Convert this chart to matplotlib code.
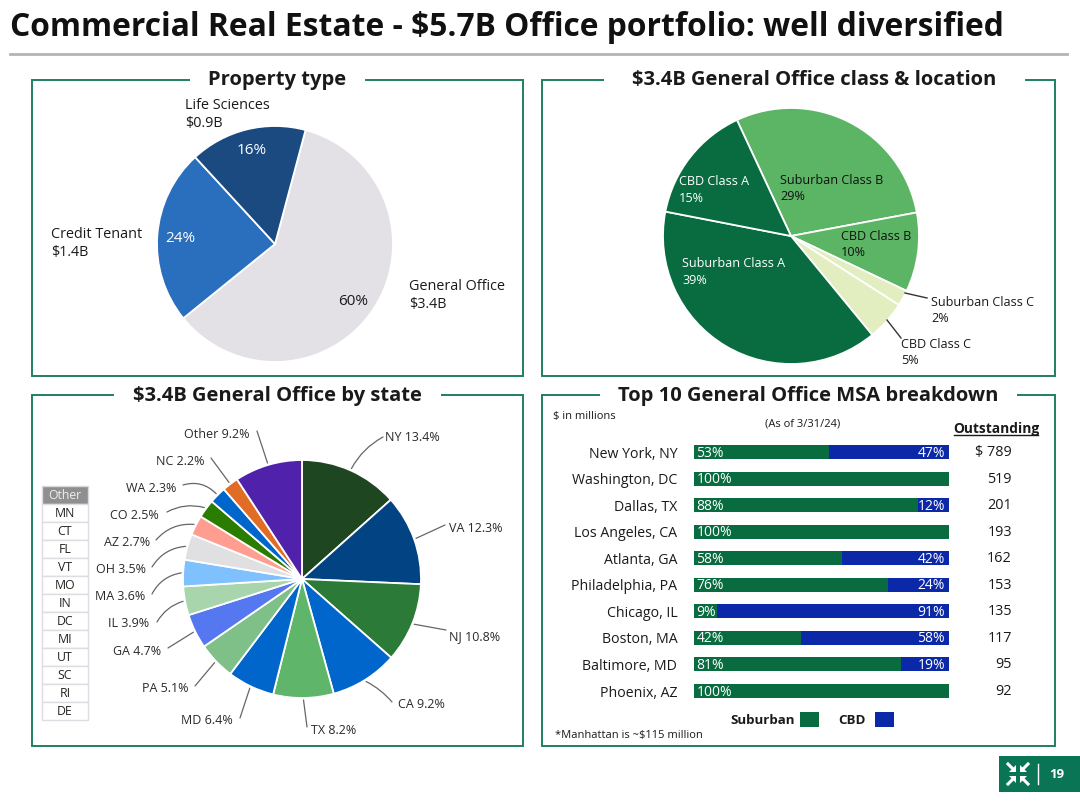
"""Office portfolio slide: three pies and a stacked bar breakdown."""
import numpy as np
import matplotlib
matplotlib.use("Agg")
import matplotlib.pyplot as plt
from matplotlib.patches import Polygon, Rectangle

W, H = 1080, 810
FONT = "Open Sans"
GREEN_LINE = "#1f7f62"
TEXT = "#1a1a1a"

# --- Data ---
type_names = ["General Office", "Credit Tenant", "Life Sciences"]
type_values = [60, 24, 16]
type_colors = ["#e3e1e6", "#2a6fbd", "#1a4a80"]

class_names = ["Suburban Class B", "CBD Class B", "Suburban Class C", "CBD Class C",
               "Suburban Class A", "CBD Class A"]
class_values = [29, 10, 2, 5, 39, 15]
class_colors = ["#5cb465", "#5cb465", "#e2edc0", "#e2edc0", "#086c40", "#086c40"]

states = ["NY", "VA", "NJ", "CA", "TX", "MD", "PA", "GA", "IL", "MA", "OH", "AZ", "CO", "WA", "NC", "Other"]
state_values = [13.4, 12.3, 10.8, 9.2, 8.2, 6.4, 5.1, 4.7, 3.9, 3.6, 3.5, 2.7, 2.5, 2.3, 2.2, 9.2]
state_colors = ["#1e4620", "#024384", "#2c7a38", "#0066cc", "#5fb56a", "#0066cc", "#7fc089", "#5577f0",
                "#a8d5ac", "#7fc0ff", "#e0e0e2", "#ff9e90", "#2a7d00", "#0066cc", "#e06c25", "#5022ab"]
other_states = ["MN", "CT", "FL", "VT", "MO", "IN", "DC", "MI", "UT", "SC", "RI", "DE"]

cities = ["New York, NY", "Washington, DC", "Dallas, TX", "Los Angeles, CA", "Atlanta, GA",
          "Philadelphia, PA", "Chicago, IL", "Boston, MA", "Baltimore, MD", "Phoenix, AZ"]
suburban = [53, 100, 88, 100, 58, 76, 9, 42, 81, 100]
cbd = [47, 0, 12, 0, 42, 24, 91, 58, 19, 0]
outstanding = ["$ 789", "519", "201", "193", "162", "153", "135", "117", "95", "92"]

# label position (px), alignment, leader end at the label (px), arc bend
state_layout = {
    "NY": (385, 436, "left", (383, 437), 0.15), "VA": (449, 527, "left", (445, 525), 0.0),
    "NJ": (449, 635, "left", (446, 630), 0.0), "CA": (398, 703, "left", (392, 702), 0.1),
    "TX": (311, 729, "left", (307, 727), 0.0), "MD": (233, 719, "right", (240, 718), 0.0),
    "PA": (188, 687, "right", (195, 686), 0.0), "GA": (161, 650, "right", (168, 648), 0.0),
    "IL": (149, 622, "right", (157, 622), -0.2), "MA": (145, 595, "right", (152, 594), -0.25),
    "OH": (146, 568, "right", (152, 567), -0.25), "AZ": (150, 541, "right", (156, 540), -0.25),
    "CO": (159, 514, "right", (167, 512), -0.2), "WA": (176, 487, "right", (183, 485), -0.3),
    "NC": (205, 460, "right", (211, 458), 0.0), "Other": (250, 433, "right", (257, 431), 0.0),
}

plt.rcParams["font.family"] = [FONT, "DejaVu Sans"]
fig = plt.figure(figsize=(W / 100, H / 100), dpi=100, facecolor="white")

# overlay in pixel coordinates for frames and text
ov = fig.add_axes([0, 0, 1, 1], zorder=5)
ov.set_xlim(0, W)
ov.set_ylim(H, 0)
ov.axis("off")
ov.patch.set_alpha(0)


def label(x, y, s, size=10.4, ha="left", va="center", color=TEXT, **kw):
    # Open Sans sits high in its box, nudge it down
    return ov.text(x, y + 1.5, s, fontsize=size, ha=ha, va=va, color=color, **kw)


def pie_axes(cx, cy, r, values, colors, start):
    # axes a bit bigger than the pie so nothing gets clipped
    m = r * 1.1
    ax = fig.add_axes([(cx - m) / W, 1 - (cy + m) / H, 2 * m / W, 2 * m / H])
    wedges, _ = ax.pie(values, colors=colors, startangle=start, counterclock=False, radius=1,
                       wedgeprops={"edgecolor": "white", "linewidth": 1.3})
    ax.set_xlim(-1.1, 1.1)
    ax.set_ylim(-1.1, 1.1)
    return wedges


# --- Title ---
label(10, 26, "Commercial Real Estate - $5.7B Office portfolio: well diversified",
      size=22.85, fontweight="bold", color="#111111")
ov.plot([10, 1067], [54, 54], color="#b4b4b4", lw=2)

# --- Panel frames ---
panels = [
    (32, 80, 523, 376, "Property type", 190, 365),
    (542, 80, 1055, 376, "$3.4B General Office class & location", 604, 1025),
    (32, 395, 523, 746, "$3.4B General Office by state", 114, 441),
    (542, 395, 1055, 746, "Top 10 General Office MSA breakdown", 600, 1017),
]
for x0, y0, x1, y1, name, gap0, gap1 in panels:
    ov.add_patch(Rectangle((x0, y0), x1 - x0, y1 - y0, fill=False, edgecolor=GREEN_LINE, lw=1.4))
    ov.plot([gap0, gap1], [y0, y0], color="white", lw=4, solid_capstyle="butt")
    label((gap0 + gap1) / 2, y0 - 1, name, size=14.5, ha="center", fontweight="bold")

# --- Property type pie ---
pie_axes(275, 244, 118, type_values, type_colors, 75)
label(185, 104, "Life Sciences")
label(185, 122, "$0.9B")
label(51, 233, "Credit Tenant")
label(51, 251, "$1.4B")
label(409, 285, "General Office")
label(409, 303, "$3.4B")
label(252, 149, "16%", size=11, ha="center", color="white")
label(180, 237, "24%", size=11, ha="center", color="white")
label(353, 300, "60%", size=11, ha="center")

# --- Class & location pie ---
pie_axes(791, 236, 128, class_values, class_colors, 115)
class_text = [
    (780, 179, class_names[0], "29%", "#111111"), (841, 235, class_names[1], "10%", "#111111"),
    (682, 262, class_names[4], "39%", "white"), (679, 180, class_names[5], "15%", "white"),
    (931, 301, class_names[2], "2%", TEXT), (901, 343, class_names[3], "5%", TEXT),
]
for x, y, name, pct, col in class_text:
    label(x, y, name, size=9.1, color=col)
    label(x, y + 16.5, pct, size=9.1, color=col)
ov.plot([905, 927], [293, 298], color="#333333", lw=1)
ov.plot([887, 901], [320, 338], color="#333333", lw=1)

# --- State pie ---
state_wedges = pie_axes(302, 579, 119, state_values, state_colors, 90)
for name, value, wedge in zip(states, state_values, state_wedges):
    lx, ly, ha, end, rad = state_layout[name]
    mid = np.deg2rad((wedge.theta1 + wedge.theta2) / 2)
    edge = (302 + 121 * np.cos(mid), 579 - 121 * np.sin(mid))
    label(lx, ly, f"{name} {value:.1f}%", size=9, ha=ha, color="#2a2a2a")
    ov.annotate("", xy=edge, xytext=end,
                arrowprops={"arrowstyle": "-", "color": "#666666", "lw": 0.9, "shrinkA": 0, "shrinkB": 0,
                            "connectionstyle": f"arc3,rad={rad}"})

# "Other" state list
ov.add_patch(Rectangle((42, 486), 46, 17.5, facecolor="#8f8f8f", edgecolor="#d8d8de", lw=1))
label(65, 494, "Other", size=8.8, ha="center", color="#eeeeee")
for i, st in enumerate(other_states):
    top = 503.5 + i * 18
    ov.add_patch(Rectangle((42, top), 46, 18, facecolor="white", edgecolor="#dcdce2", lw=1))
    label(65, top + 8.5, st, size=8.8, ha="center", color="#222222")

# --- MSA bars ---
row = (691 - 452) / 9
ax = fig.add_axes([694 / W, 1 - (691 + row / 2) / H, 255 / W, (row * 10) / H])
y = np.arange(len(cities))
ax.barh(y, suburban, height=0.53, color="#086c40")
ax.barh(y, cbd, left=suburban, height=0.53, color="#0a28a8")
ax.set_xlim(0, 100)
ax.set_ylim(len(cities) - 0.5, -0.5)
ax.set_yticks(y, cities, fontsize=10.2, color=TEXT)
ax.tick_params(axis="y", length=0, pad=12)
ax.set_xticks([])
for spine in ax.spines.values():
    spine.set_visible(False)
for i in y:
    ax.text(1, i + 0.04, f"{suburban[i]}%", color="white", fontsize=10, va="center", ha="left")
    if cbd[i]:
        ax.text(98.5, i + 0.04, f"{cbd[i]}%", color="white", fontsize=10, va="center", ha="right")
    label(1012, 451 + i * row, outstanding[i], ha="right")

label(553, 415, "$ in millions", size=8)
label(803, 422, "(As of 3/31/24)", size=8, ha="center")
label(996, 427, "Outstanding", size=9.9, ha="center", fontweight="bold")
ov.plot([954, 1038], [435, 435], color=TEXT, lw=1)
label(730, 719, "Suburban", size=9.6, fontweight="bold")
ov.add_patch(Rectangle((800, 712), 19, 15, facecolor="#086c40", edgecolor="none"))
label(838, 719, "CBD", size=9.6, fontweight="bold")
ov.add_patch(Rectangle((875, 712), 19, 15, facecolor="#0a28a8", edgecolor="none"))
label(555, 734, "*Manhattan is ~$115 million", size=8)

# --- Footer logo block ---
ov.add_patch(Rectangle((999, 756), 81, 36, facecolor="#0a7554", edgecolor="none"))
for sx, sy in [(-1, -1), (1, -1), (-1, 1), (1, 1)]:
    ov.add_patch(Polygon([(1018 + sx * 2, 774 + sy * 2), (1018 + sx * 9, 774 + sy * 2), (1018 + sx * 2, 774 + sy * 9)],
                         facecolor="white", edgecolor="none"))
    ov.plot([1018 + sx * 5, 1018 + sx * 10], [774 + sy * 5, 774 + sy * 10], color="white", lw=2.2)
ov.plot([1038, 1038], [764, 784], color="white", lw=1)
label(1057, 773, "19", size=9.5, ha="center", color="white", fontweight="bold")

fig.savefig("out.png", dpi=100)
